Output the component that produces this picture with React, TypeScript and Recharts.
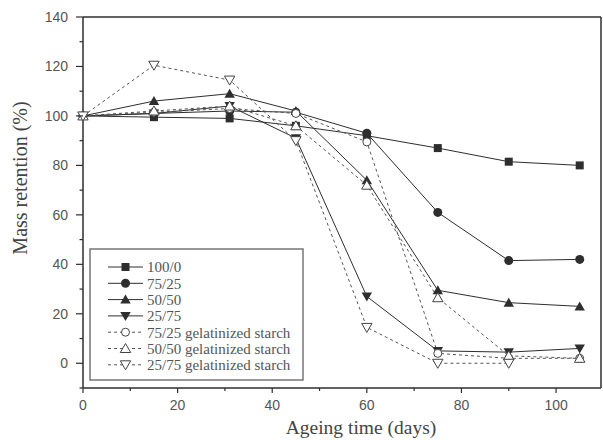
import React from 'react';
import { LineChart, Line, XAxis, YAxis, ReferenceLine } from 'recharts';

const days = [0, 15, 31, 45, 60, 75, 90, 105];
const s100_0 = [100, 99.5, 99, 96, 92, 87, 81.5, 80];
const s75_25 = [100, 101, 102, 101.5, 93, 61, 41.5, 42];
const s50_50 = [100, 106, 109, 102, 74, 29.5, 24.5, 23];
const s25_75 = [100, 101, 104, 91, 27, 5, 4.5, 6];
const g75_25 = [100, 101.5, 103, 101, 89.5, 4, 2, 2];
const g50_50 = [100, 102, 104, 96, 72, 26.5, 3, 2];
const g25_75: (number | null)[] = [100, 120.5, 114.5, 90, 14.5, 0, 0, null];

const xTicks = [0, 10, 20, 30, 40, 50, 60, 70, 80, 90, 100];
const yTicks = [-10, 0, 10, 20, 30, 40, 50, 60, 70, 80, 90, 100, 110, 120, 130, 140];

type MarkerType = 'square' | 'circle' | 'up' | 'down' | 'ocircle' | 'oup' | 'odown';

const series: { key: string; name: string; values: (number | null)[]; marker: MarkerType; dashed: boolean }[] = [
  { key: 's100_0', name: '100/0', values: s100_0, marker: 'square', dashed: false },
  { key: 's75_25', name: '75/25', values: s75_25, marker: 'circle', dashed: false },
  { key: 's50_50', name: '50/50', values: s50_50, marker: 'up', dashed: false },
  { key: 's25_75', name: '25/75', values: s25_75, marker: 'down', dashed: false },
  { key: 'g75_25', name: '75/25 gelatinized starch', values: g75_25, marker: 'ocircle', dashed: true },
  { key: 'g50_50', name: '50/50 gelatinized starch', values: g50_50, marker: 'oup', dashed: true },
  { key: 'g25_75', name: '25/75 gelatinized starch', values: g25_75, marker: 'odown', dashed: true },
];

const data = days.map((d, i) => {
  const row: Record<string, number | null> = { day: d };
  series.forEach((s) => {
    row[s.key] = s.values[i];
  });
  return row;
});

const DARK = '#2e2e2e';
const DASH = '#555';

function Marker({ type, cx, cy }: { type: MarkerType; cx: number; cy: number }) {
  switch (type) {
    case 'square':
      return <rect x={cx - 4} y={cy - 4} width={8} height={8} fill={DARK} />;
    case 'circle':
      return <circle cx={cx} cy={cy} r={4.5} fill={DARK} />;
    case 'up':
      return <polygon points={`${cx},${cy - 5} ${cx + 5.2},${cy + 4} ${cx - 5.2},${cy + 4}`} fill={DARK} />;
    case 'down':
      return <polygon points={`${cx},${cy + 5} ${cx + 5.2},${cy - 4} ${cx - 5.2},${cy - 4}`} fill={DARK} />;
    case 'ocircle':
      return <circle cx={cx} cy={cy} r={4} fill="#fff" stroke="#444" strokeWidth={1} />;
    case 'oup':
      return <polygon points={`${cx},${cy - 5} ${cx + 5.2},${cy + 4} ${cx - 5.2},${cy + 4}`} fill="#fff" stroke="#444" strokeWidth={1} />;
    case 'odown':
      return <polygon points={`${cx},${cy + 5} ${cx + 5.2},${cy - 4} ${cx - 5.2},${cy - 4}`} fill="#fff" stroke="#444" strokeWidth={1} />;
  }
  return null;
}

const X_TS = 5;
const X_TM = 7;
const Y_TS = 7;
const Y_TM = 8;

function XTick(props: any) {
  const { x, y, payload } = props;
  const v = payload.value;
  const major = v % 20 === 0;
  const ay = y - X_TS - X_TM;
  return (
    <g>
      <line x1={x} x2={x} y1={ay} y2={ay + (major ? 5 : 3)} stroke={DARK} strokeWidth={1.2} />
      {major && (
        <text x={x} y={y} dy="0.71em" textAnchor="middle" fill="#555" fontSize={14} fontFamily="Liberation Sans, Arial, sans-serif">
          {v}
        </text>
      )}
    </g>
  );
}

function YTick(props: any) {
  const { x, y, payload } = props;
  const v = payload.value;
  const major = v % 20 === 0 && v >= 0;
  const ax = x + Y_TS + Y_TM;
  return (
    <g>
      <line x1={ax} x2={ax - (major ? 7 : 3.5)} y1={y} y2={y} stroke={DARK} strokeWidth={1.2} />
      {major && (
        <text x={x} y={y} dy="0.355em" textAnchor="end" fill="#555" fontSize={14} fontFamily="Liberation Sans, Arial, sans-serif">
          {v}
        </text>
      )}
    </g>
  );
}

function LegendBox() {
  const rowH = 16.3;
  return (
    <svg
      width={216}
      height={134}
      style={{ position: 'absolute', left: 89, top: 248 }}
    >
      <rect x={1} y={1} width={213} height={131} fill="#fff" stroke="#777" strokeWidth={1.5} />
      {series.map((s, i) => {
        const cy = 19 + i * rowH;
        return (
          <g key={s.key}>
            <line
              x1={19}
              x2={54}
              y1={cy}
              y2={cy}
              stroke={s.dashed ? DASH : DARK}
              strokeWidth={1}
              strokeDasharray={s.dashed ? '3 3' : undefined}
            />
            <Marker type={s.marker} cx={36.5} cy={cy} />
            <text x={58} y={cy} dy="0.36em" fontSize={15} fill="#555" fontFamily="Liberation Serif, Times New Roman, serif">
              {s.name}
            </text>
          </g>
        );
      })}
    </svg>
  );
}

export default function App() {
  return (
    <div style={{ position: 'absolute', left: 0, top: 0, width: 603, height: 440, background: '#fff' }}>
      <LineChart width={603} height={440} data={data} margin={{ top: 17, right: 2, bottom: 0, left: 0 }}>
        <XAxis
          dataKey="day"
          type="number"
          domain={[0, 109.5]}
          ticks={xTicks}
          interval={0}
          tickSize={X_TS}
          tickMargin={X_TM}
          tickLine={false}
          tick={<XTick />}
          height={52}
          axisLine={{ stroke: DARK, strokeWidth: 1.5 }}
          label={{
            content: () => (
              <text x={361} y={434} textAnchor="middle" fontSize={19.5} fill="#444" fontFamily="Liberation Serif, Times New Roman, serif">
                Ageing time (days)
              </text>
            ),
          }}
        />
        <YAxis
          type="number"
          domain={[-10, 140]}
          ticks={yTicks}
          interval={0}
          allowDataOverflow
          tickSize={Y_TS}
          tickMargin={Y_TM}
          tickLine={false}
          tick={<YTick />}
          width={83}
          axisLine={{ stroke: DARK, strokeWidth: 1.5 }}
          label={{
            content: () => (
              <text
                x={0}
                y={0}
                transform="translate(27,178) rotate(-90)"
                textAnchor="middle"
                fontSize={20}
                fill="#444"
                fontFamily="Liberation Serif, Times New Roman, serif"
              >
                Mass retention (%)
              </text>
            ),
          }}
        />
        <ReferenceLine y={140} stroke={DARK} strokeWidth={1.5} />
        <ReferenceLine x={109.5} stroke={DARK} strokeWidth={1.5} />
        {series.map((s) => (
          <Line
            key={s.key}
            dataKey={s.key}
            name={s.name}
            type="linear"
            stroke={s.dashed ? DASH : DARK}
            strokeWidth={1}
            strokeDasharray={s.dashed ? '3 3' : undefined}
            isAnimationActive={false}
            connectNulls={false}
            dot={(p: any) =>
              p.cy == null || p.value == null ? (
                <g key={`${s.key}-${p.index}`} />
              ) : (
                <g key={`${s.key}-${p.index}`}>
                  <Marker type={s.marker} cx={p.cx} cy={p.cy} />
                </g>
              )
            }
            activeDot={false}
          />
        ))}
      </LineChart>
      <LegendBox />
    </div>
  );
}
